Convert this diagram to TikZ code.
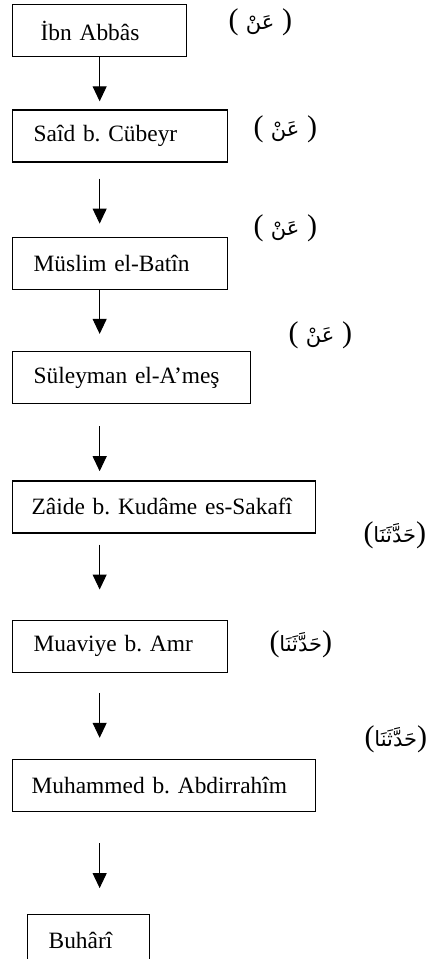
\documentclass[tikz,border=0pt]{standalone}
\usepackage{fontspec}
\setmainfont{Liberation Serif}
\newfontfamily\arabicfont[Script=Arabic]{DejaVu Sans}
\TeXXeTstate=1
\frenchspacing
\usetikzlibrary{arrows.meta,positioning}

\newcommand{\arabicword}[1]{{\arabicfont\fontsize{21}{28}\selectfont\beginR #1\endR}}
\newcommand{\wordan}{(\ \arabicword{عَنْ}\ )}
\newcommand{\wordhaddesena}{(\arabicword{حَدَّثَنَا})}

\begin{document}
\begin{tikzpicture}[
    x=1pt, y=-1pt,
    narrator/.style={rectangle, draw=black, line width=1.3pt, minimum height=52pt, inner xsep=21pt, align=left, font=\fontsize{23.4}{28}\selectfont},
    via/.style={inner sep=0pt, font=\fontsize{30}{34}\selectfont},
    arrow/.style={-{Triangle[width=14pt,length=15pt]}, line width=1pt}
]
\useasboundingbox (0,0) rectangle (432,959);

\node (abbas) [narrator, anchor=north west, text width=118pt, inner xsep=28pt] at (12,4) {İbn Abbâs};
\node (said) [narrator, below right=52pt and 0pt of abbas.south west, text width=173pt] {Saîd b. Cübeyr};
\node (muslim) [narrator, below right=74pt and 0pt of said.south west, text width=173pt] {Müslim el-Batîn};
\node (suleyman) [narrator, below right=61pt and 0pt of muslim.south west, text width=196pt] {Süleyman el-A’meş};
\node (zaide) [narrator, below right=76pt and 0pt of suleyman.south west, text width=265pt, inner xsep=19pt] {Zâide b. Kudâme es-Sakafî};
\node (muaviye) [narrator, below right=86pt and 0pt of zaide.south west, text width=173pt] {Muaviye b. Amr};
\node (muhammed) [narrator, below right=86pt and 0pt of muaviye.south west, text width=265pt, inner xsep=19pt] {Muhammed b. Abdirrahîm};
\node (buhari) [narrator, below right=102pt and 15pt of muhammed.south west, text width=80pt] {Buhârî};

% rivayet sigalari
\node (via1) [via, right=41pt of abbas.east, yshift=8pt] {\wordan};
\node (via2) [via, right=25pt of said.east, yshift=7pt] {\wordan};
\node (via3) [via, right=25pt of muslim.north east, yshift=8pt] {\wordan};
\node (via4) [via, right=37pt of suleyman.north east, yshift=16pt] {\wordan};
\node (via5) [via, right=47pt of zaide.south east, yshift=-2pt] {\wordhaddesena};
\node (via6) [via, right=41pt of muaviye.east, yshift=2pt] {\wordhaddesena};
\node (via7) [via, right=48pt of muhammed.north east, yshift=20pt] {\wordhaddesena};

\draw [arrow, shorten >=8pt] (abbas.south) -- (said.north -| abbas.south);
\draw [arrow, shorten <=16pt, shorten >=13pt] (said.south -| abbas.south) -- (muslim.north -| abbas.south);
\draw [arrow, shorten >=17pt] (muslim.south -| abbas.south) -- (suleyman.north -| abbas.south);
\draw [arrow, shorten <=22pt, shorten >=9pt] (suleyman.south -| abbas.south) -- (zaide.north -| abbas.south);
\draw [arrow, shorten <=11pt, shorten >=30pt] (zaide.south -| abbas.south) -- (muaviye.north -| abbas.south);
\draw [arrow, shorten <=20pt, shorten >=21pt] (muaviye.south -| abbas.south) -- (muhammed.north -| abbas.south);
\draw [arrow, shorten <=31pt, shorten >=26pt] (muhammed.south -| abbas.south) -- (buhari.north -| abbas.south);

\end{tikzpicture}
\end{document}
